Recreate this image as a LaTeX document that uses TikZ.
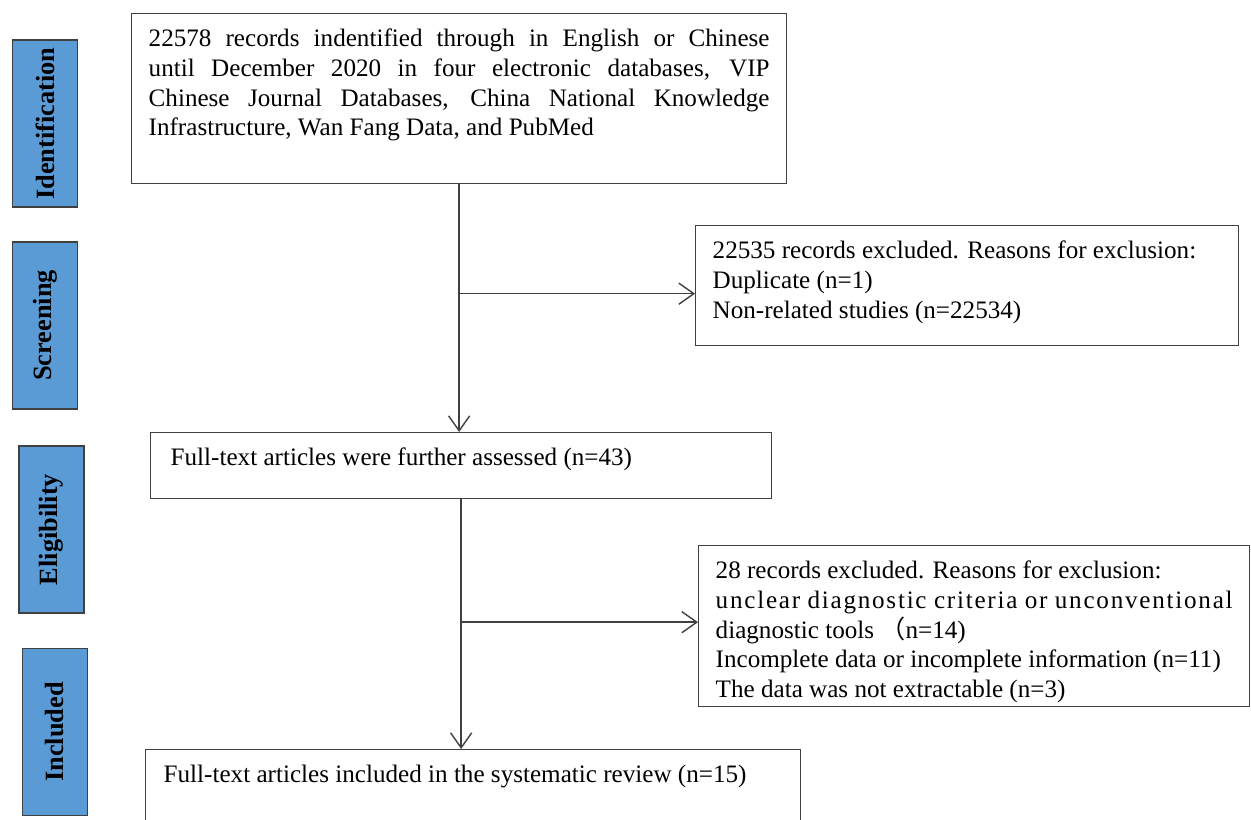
\documentclass[tikz,border=0pt]{standalone}
\usepackage{fontspec}
\setmainfont{Liberation Serif}
\newfontfamily\cjk{Noto Sans CJK SC}
\usetikzlibrary{arrows.meta}
\definecolor{stageblue}{RGB}{91,155,213}
\definecolor{linegray}{RGB}{64,64,64}
\tikzset{
  box/.style={draw=linegray, line width=0.8pt, anchor=north west, inner xsep=0.34cm, inner ysep=0.3cm,
    font=\fontsize{14.3}{17}\selectfont},
  stage/.style={draw=linegray, fill=stageblue, line width=0.6pt, rotate=90, minimum width=3.34cm,
    minimum height=1.3cm, inner sep=0pt, font=\fontsize{15}{17}\selectfont\bfseries},
  flow/.style={draw=linegray, line width=0.8pt, -{Straight Barb[length=8.5pt,width=12pt]}}
}
\begin{document}
\begin{tikzpicture}[x=0.02cm,y=-0.02cm]
\useasboundingbox (0,0) rectangle (1251,820);
\clip (0,0) rectangle (1251,820);

% stages
\node[stage] (sid) at (45,123.5) {Identification};
\node[stage] (sscr) at (45,325.5) {Screening};
\node[stage] (selig) at (51.5,529.5) {Eligibility};
\node[stage] (sincl) at (55,732) {Included};

% boxes
\node[box] (rec) at (131,13) {\parbox[c][2.8cm][t]{12.42cm}{\parindent=0pt
  22578 records indentified through in English or Chinese\linebreak
  until December 2020 in four electronic databases, VIP\linebreak
  Chinese Journal Databases, China National Knowledge\linebreak
  Infrastructure, Wan Fang Data, and PubMed}};
\node[box] (exa) at (695,225) {\parbox[c][1.8cm][t]{10.18cm}{\raggedright
  22535 records excluded. Reasons for exclusion:\\
  Duplicate (n=1)\\
  Non-related studies (n=22534)}};
\node[box, inner xsep=0.4cm] (full) at (150,432) {\parbox[c][0.72cm][t]{11.62cm}{\raggedright
  Full-text articles were further assessed (n=43)}};
\node[box] (exb) at (698,545) {\parbox[c][2.62cm][t]{10.34cm}{\raggedright
  28 records excluded. Reasons for exclusion:\\
  {\addfontfeature{LetterSpace=7}unclear diagnostic criteria or unconventional}\\
  diagnostic tools {\cjk （}n=14)\\
  Incomplete data or incomplete information (n=11)\\
  The data was not extractable (n=3)}};
\node[box, inner xsep=0.36cm] (incl) at (145,749) {\parbox[c][1.8cm][t]{12.38cm}{\raggedright
  Full-text articles included in the systematic review (n=15)}};

% connectors
\draw[flow] (rec.south) -- (rec.south |- full.north);
\draw[flow] (rec.south |- exa.west) ++(0,8) coordinate (ja) -- (ja -| exa.west);
\draw[flow] (full.south) -- (full.south |- incl.north);
\draw[flow] (full.south |- exb.west) ++(0,-4) coordinate (jb) -- (jb -| exb.west);
\end{tikzpicture}
\end{document}
